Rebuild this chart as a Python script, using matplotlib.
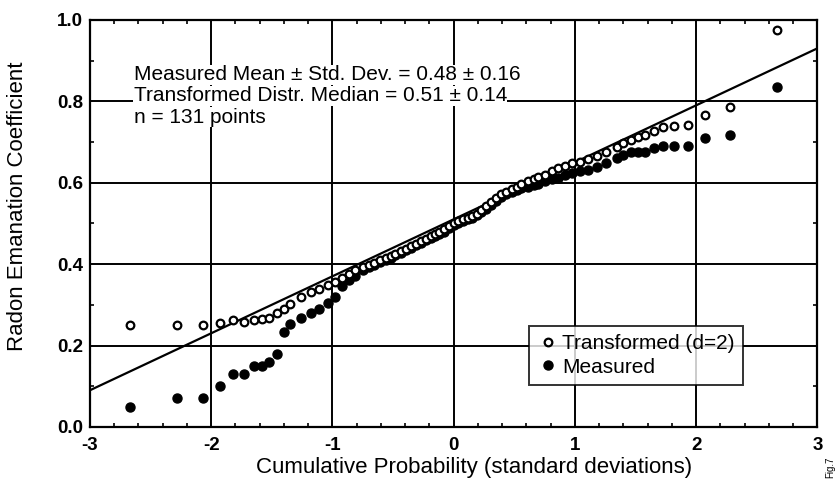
import matplotlib
matplotlib.use("Agg")
from matplotlib import pyplot as plt
from matplotlib.ticker import MultipleLocator

plt.rcParams['font.family'] = ['Liberation Sans', 'DejaVu Sans']

# normal scores (standard deviations) of the plotted ranks
x_sd = [-2.67, -2.28, -2.07, -1.93, -1.82, -1.73, -1.65, -1.58, -1.52, -1.46, -1.40,
        -1.35, -1.26, -1.18, -1.11, -1.04, -0.98, -0.92, -0.86, -0.81, -0.75,
        -0.70, -0.66, -0.61, -0.56, -0.52, -0.48, -0.43, -0.39, -0.35, -0.31,
        -0.27, -0.23, -0.19, -0.15, -0.12, -0.08, -0.04, 0.00, 0.04, 0.08,
        0.12, 0.15, 0.19, 0.23, 0.27, 0.31, 0.35, 0.39, 0.43, 0.48,
        0.52, 0.56, 0.61, 0.66, 0.70, 0.75, 0.81, 0.86, 0.92, 0.98,
        1.04, 1.11, 1.18, 1.26, 1.35,
        1.40, 1.46, 1.52, 1.58, 1.65, 1.73, 1.82, 1.93, 2.07, 2.28, 2.67]

transformed = [0.250, 0.250, 0.250, 0.255, 0.262, 0.258, 0.262, 0.265, 0.268, 0.280, 0.290,
               0.302, 0.318, 0.332, 0.340, 0.348, 0.355, 0.365, 0.375, 0.385, 0.392,
               0.398, 0.403, 0.410, 0.416, 0.420, 0.425, 0.432, 0.438, 0.444, 0.450,
               0.456, 0.462, 0.468, 0.475, 0.480, 0.487, 0.494, 0.500, 0.505, 0.510,
               0.514, 0.518, 0.524, 0.532, 0.542, 0.552, 0.562, 0.572, 0.578, 0.585,
               0.590, 0.596, 0.603, 0.610, 0.615, 0.620, 0.628, 0.635, 0.640, 0.648,
               0.652, 0.658, 0.665, 0.675, 0.688,
               0.697, 0.705, 0.713, 0.717, 0.727, 0.737, 0.740, 0.742, 0.767, 0.785, 0.975]

measured = [0.050, 0.070, 0.070, 0.100, 0.130, 0.130, 0.150, 0.150, 0.160, 0.180, 0.232,
            0.252, 0.268, 0.280, 0.290, 0.305, 0.320, 0.345, 0.360, 0.372, 0.385,
            0.392, 0.398, 0.405, 0.410, 0.416, 0.422, 0.428, 0.434, 0.440, 0.446,
            0.452, 0.458, 0.463, 0.468, 0.474, 0.480, 0.488, 0.495, 0.500, 0.505,
            0.510, 0.514, 0.520, 0.527, 0.536, 0.546, 0.555, 0.565, 0.572, 0.578,
            0.582, 0.586, 0.590, 0.594, 0.598, 0.603, 0.608, 0.612, 0.618, 0.624,
            0.628, 0.632, 0.638, 0.648, 0.660,
            0.668, 0.675, 0.676, 0.676, 0.685, 0.690, 0.690, 0.690, 0.710, 0.716, 0.835]

# fitted transformed distribution: median + slope * z
fit_median = 0.51
fit_sd = 0.14
fit_x = [-3, 3]

fig = plt.figure(figsize=(8.4, 4.97), dpi=100)
ax = fig.add_axes([0.107, 0.141, 0.866, 0.819])

ax.set_xlim(-3, 3)
ax.set_ylim(0, 1)
ax.set_xticks([-3, -2, -1, 0, 1, 2, 3])
ax.set_yticks([0.0, 0.2, 0.4, 0.6, 0.8, 1.0])
ax.set_xticklabels(['-3', '-2', '-1', '0', '1', '2', '3'])
ax.set_yticklabels(['0.0', '0.2', '0.4', '0.6', '0.8', '1.0'])
ax.xaxis.set_minor_locator(MultipleLocator(0.2))
ax.yaxis.set_minor_locator(MultipleLocator(0.1))
ax.tick_params(which='major', length=0, labelsize=13.5)
ax.tick_params(axis='x', which='major', pad=7)
ax.tick_params(axis='y', which='major', pad=5)
ax.tick_params(which='minor', direction='in', length=3, width=1.2,
               top=True, right=True)
for lab in ax.get_xticklabels() + ax.get_yticklabels():
    lab.set_fontweight('bold')
ax.grid(True, which='major', color='black', linewidth=1.4)
for s in ax.spines.values():
    s.set_linewidth(1.6)

ax.plot(fit_x, [fit_median + fit_sd * v for v in fit_x], color='black', lw=1.6, zorder=3)

ax.plot(x_sd, measured, 'o', ms=6.5, color='black', zorder=4, label='Measured')
ax.plot(x_sd, transformed, 'o', ms=5.5, mfc='white', mec='black', mew=1.6,
        zorder=5, label='Transformed (d=2)')

box = dict(facecolor='white', edgecolor='none', pad=0.3)
ax.text(-2.64, 0.865, 'Measured Mean \u00b1 Std. Dev. = 0.48 \u00b1 0.16', fontsize=15,
        va='center', bbox=box, zorder=6)
ax.text(-2.64, 0.813, 'Transformed Distr. Median = 0.51 \u00b1 0.14', fontsize=15,
        va='center', bbox=box, zorder=6)
ax.text(-2.64, 0.761, 'n = 131 points', fontsize=15, va='center', bbox=box, zorder=6)

h, l = ax.get_legend_handles_labels()
leg = ax.legend(h[::-1], l[::-1], loc='lower right', bbox_to_anchor=(0.898, 0.103),
                fontsize=15, frameon=True, fancybox=False, handletextpad=0.2,
                handlelength=1.0, borderpad=0.4, labelspacing=0.2, borderaxespad=0)
leg.get_frame().set_edgecolor('black')
leg.get_frame().set_linewidth(1.4)
leg.set_zorder(7)

ax.set_xlabel('Cumulative Probability (standard deviations)', fontsize=16)
ax.set_ylabel('Radon Emanation Coefficient', fontsize=16)
ax.xaxis.set_label_coords(0.528, -0.074)
ax.yaxis.set_label_coords(-0.085, 0.543)

fig.text(0.988, 0.06, 'Fig.7', rotation=90, fontsize=7, ha='center', va='center')

fig.savefig('out.png', dpi=100)
